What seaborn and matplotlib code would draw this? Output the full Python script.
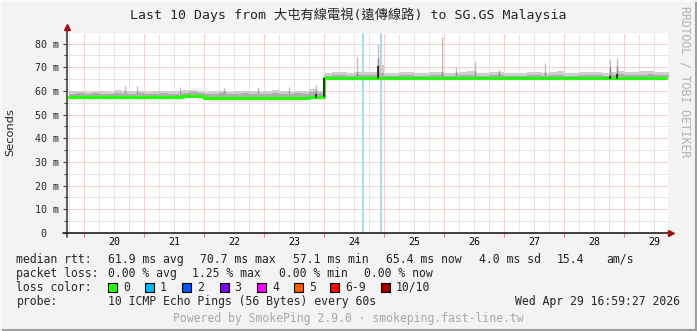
import numpy as np
import pandas as pd
import matplotlib
matplotlib.use('Agg')
import matplotlib.pyplot as plt
import matplotlib.dates as mdates
from matplotlib.ticker import MultipleLocator, FuncFormatter, NullFormatter
from matplotlib.patches import Rectangle
from matplotlib.lines import Line2D
import seaborn as sns

# ---------------- data ----------------
sample_start = '2026-04-19 18:00'   # one sample every 3 hours
median_before = [57.4, 57.3, 57.4, 57.3, 57.3, 57.3, 57.4, 57.3, 57.3, 57.4,
                 57.3, 57.3, 57.3, 57.4, 57.5, 57.9, 58.0, 57.9, 57.2, 57.1,
                 57.1, 57.2, 57.1, 57.1, 57.2, 57.1, 57.1, 57.2, 57.2, 57.1,
                 57.1, 57.2, 57.5, 57.3]
median_after = [65.4, 65.3, 65.3, 65.3, 65.3, 65.3, 65.3, 65.6, 65.4, 65.3,
                65.3, 65.3, 65.3, 65.3, 65.3, 65.3, 65.3, 65.3, 65.3, 65.3,
                65.3, 65.3, 65.3, 65.4, 65.3, 65.3, 65.3, 65.3, 65.3, 65.3,
                65.3, 65.3, 65.3, 65.3, 65.3, 65.3, 65.4, 65.3, 65.3, 65.3,
                65.3, 65.3, 65.3, 65.3, 65.4, 65.3, 65.4]
smoke_dark_before = [58.9, 59.1, 58.7, 59.0, 58.8, 58.9, 59.2, 58.8, 58.9, 59.0,
                     58.7, 58.9, 59.1, 58.8, 58.9, 59.3, 59.4, 59.2, 58.7, 58.8,
                     59.0, 58.7, 58.8, 59.1, 58.9, 58.6, 58.9, 59.1, 58.8, 58.7,
                     59.0, 58.8, 59.6, 59.1]
smoke_dark_after = [66.5, 66.7, 66.8, 66.4, 66.6, 66.9, 66.7, 67.8, 66.5, 66.3,
                    66.6, 66.8, 66.4, 66.5, 66.9, 66.6, 66.3, 66.5, 66.7, 66.9,
                    66.5, 66.4, 66.6, 66.9, 66.5, 66.3, 66.5, 66.8, 66.6, 66.4,
                    66.7, 66.9, 66.5, 66.4, 66.8, 66.6, 66.9, 66.5, 66.7, 67.0,
                    66.8, 66.6, 66.9, 67.1, 66.9, 66.7, 66.9]
smoke_light_before = [59.8, 60.2, 59.6, 59.9, 60.0, 59.7, 60.3, 59.9, 59.8, 60.1,
                      59.7, 60.0, 60.2, 59.8, 59.9, 60.3, 60.5, 60.2, 59.6, 59.9,
                      60.1, 59.7, 59.8, 60.2, 59.9, 59.6, 60.0, 60.3, 59.8, 59.7,
                      60.1, 59.9, 60.8, 60.2]
smoke_light_after = [67.6, 67.9, 68.1, 67.7, 67.9, 68.2, 68.0, 70.8, 67.8, 67.5,
                     67.9, 68.1, 67.6, 67.8, 68.2, 67.9, 67.5, 67.7, 68.0, 68.3,
                     67.8, 67.6, 67.9, 68.2, 67.7, 67.5, 67.8, 68.1, 67.9, 67.6,
                     68.0, 68.3, 67.8, 67.7, 68.1, 67.9, 68.2, 67.8, 68.0, 68.4,
                     68.1, 67.9, 68.3, 68.5, 68.2, 68.0, 68.3]

spike_times = ['2026-04-20 16:20', '2026-04-20 21:07', '2026-04-21 14:24',
               '2026-04-22 08:00', '2026-04-22 21:36', '2026-04-23 10:00',
               '2026-04-23 20:53', '2026-04-24 13:12', '2026-04-24 21:36',
               '2026-04-25 23:17', '2026-04-26 04:48', '2026-04-26 12:29',
               '2026-04-26 22:05', '2026-04-27 16:19', '2026-04-28 18:29',
               '2026-04-28 21:07']
spike_base = [59.0, 59.0, 59.0, 59.0, 59.0, 59.0, 59.0, 66.5,
              66.5, 66.5, 66.5, 66.5, 66.5, 66.5, 66.5, 66.5]
spike_dark = [60.0, 60.2, 60.0, 60.0, 60.1, 60.0, 60.5, 68.0,
              74.0, 68.0, 68.0, 68.5, 68.0, 68.0, 70.0, 70.5]
spike_tops = [61.9, 62.3, 61.5, 61.4, 61.8, 61.6, 62.7, 74.2,
              80.0, 83.0, 70.3, 72.4, 69.0, 72.0, 72.9, 74.0]

dark_median_times = ['2026-04-23 20:53', '2026-04-24 00:00', '2026-04-24 21:36',
                     '2026-04-28 18:29', '2026-04-28 21:07']
dark_median_lo = [57.1, 57.3, 65.2, 65.2, 65.2]
dark_median_hi = [58.6, 65.3, 70.7, 66.3, 67.0]

loss_times = ['2026-04-24 15:36', '2026-04-24 22:48']

y_ticks = [0, 10, 20, 30, 40, 50, 60, 70, 80]
y_tick_labels = [' 0', '10 m', '20 m', '30 m', '40 m', '50 m', '60 m', '70 m', '80 m']
day_labels = ['20', '21', '22', '23', '24', '25', '26', '27', '28', '29']

loss_colors = ['#26ff00', '#00b8ff', '#0059ff', '#7e00ff', '#ff00ff',
               '#ff5a00', '#ff0000', '#a10000']
loss_labels = ['0', '1', '2', '3', '4', '5', '6-9', '10/10']
loss_label_x = [108, 145, 182, 219.5, 257, 294, 330, 381]

title = 'Last 10 Days from 大屯有線電視(遠傳線路) to SG.GS Malaysia'

# ---------------- figure ----------------
sns.set_theme(style='white')
MONO = ['DejaVu Sans Mono', 'Noto Sans CJK TC']
plt.rcParams['font.family'] = MONO

W, H = 697, 331
fig = plt.figure(figsize=(W / 100, H / 100), dpi=100, facecolor='#f3f3f3')
ax = fig.add_axes([67 / W, (H - 233) / H, 601 / W, 200 / H])
ax.set_facecolor('white')

median = median_before + median_after
smoke_dark = smoke_dark_before + smoke_dark_after
smoke_light = smoke_light_before + smoke_light_after
times = pd.date_range(sample_start, periods=len(median), freq='3h')
df = pd.DataFrame({'time': times, 'median': median,
                   'dark': smoke_dark, 'light': smoke_light})

# loss bars
for t in pd.to_datetime(loss_times):
    ax.axvline(t, color='#a8dcf0', lw=1.5, zorder=1.5)

# smoke
ax.fill_between(df['time'], df['median'], df['light'], step='post',
                color='#cecece', lw=0, zorder=2)
ax.fill_between(df['time'], df['median'], df['dark'], step='post',
                color='#acacac', lw=0, zorder=2.1)
st = pd.to_datetime(spike_times)
ax.vlines(st, spike_base, spike_tops, color='#bdbdbd', lw=1.0, zorder=2.2)
ax.vlines(st, spike_base, spike_dark, color='#8a8a8a', lw=1.0, zorder=2.3)

# median
sns.lineplot(data=df, x='time', y='median', drawstyle='steps-post',
             color='#26ff00', lw=2.3, ax=ax, zorder=3)
ax.vlines(pd.to_datetime(dark_median_times), dark_median_lo, dark_median_hi,
          color='#101010', lw=1.1, zorder=3.5)

# axes limits / ticks / grid
ax.set_xlim(pd.Timestamp('2026-04-19 17:12'), pd.Timestamp('2026-04-29 17:36'))
ax.set_ylim(0, 84.5)
ax.set_xlabel('')
ax.set_ylabel('')
for s in ax.spines.values():
    s.set_visible(False)

ax.xaxis.set_major_locator(mdates.DayLocator())
ax.xaxis.set_major_formatter(NullFormatter())
ax.xaxis.set_minor_locator(mdates.HourLocator(byhour=[6, 12, 18]))
noon_pos = {round(mdates.date2num(pd.Timestamp(f'2026-04-{d} 12:00')), 4): d
            for d in day_labels}
ax.xaxis.set_minor_formatter(FuncFormatter(
    lambda v, pos: noon_pos.get(round(v, 4), '')))

ax.set_yticks(y_ticks, labels=y_tick_labels)
ax.yaxis.set_minor_locator(MultipleLocator(5))

grid_kw = dict(ls=(0, (1, 1)), lw=0.72)
ax.grid(which='major', color='#eba8a8', **grid_kw)
ax.grid(which='minor', color='#cfcfcf', **grid_kw)
ax.set_axisbelow(True)

ax.tick_params(axis='x', which='major', length=3, width=0.8, color='#e08080',
               direction='out', bottom=True)
ax.tick_params(axis='x', which='minor', length=0, pad=3.2,
               labelsize=7.2, labelcolor='black')
ax.tick_params(axis='y', which='major', length=3, width=0.8, color='#404040',
               direction='out', left=True, pad=20.3, labelsize=7.2)
ax.tick_params(axis='y', which='minor', length=2, width=0.8, color='#404040',
               direction='out', left=True)
for lab in ax.get_yticklabels():
    lab.set_ha('left')

# axis lines with arrows
ax.plot([0, 0], [-4 / 200, 1.02], transform=ax.transAxes, color='#404040',
        lw=1.2, clip_on=False, zorder=5)
ax.plot([-4 / 601, 1.003], [0, 0], transform=ax.transAxes, color='#202020',
        lw=1.2, clip_on=False, zorder=5)
ax.plot([0], [1.03], marker='^', ms=5, color='#9b1414', transform=ax.transAxes,
        clip_on=False, zorder=6)
ax.plot([1.005], [0], marker='>', ms=5, color='#9b1414', transform=ax.transAxes,
        clip_on=False, zorder=6)


def ftext(x, y, s, **kw):
    kw.setdefault('family', MONO)
    kw.setdefault('va', 'center')
    return fig.text(x / W, 1 - y / H, s, **kw)


# title
ftext(348, 19.5, title, fontsize=9.5, ha='center', va='baseline')

# side labels
ftext(10, 132, 'Seconds', rotation=90, ha='center', fontsize=8.2,
      family='DejaVu Sans')
ftext(685, 81.5, 'RRDTOOL / TOBI OETIKER', rotation=270, ha='center',
      fontsize=8.3, color='#b2b2b2')

# legend
LS = 8.3
rows = [
    (259.3, [(16.4, 'median rtt:'), (107.6, '61.9 ms avg'), (200, '70.7 ms max'),
             (292.9, '57.1 ms min'), (385.8, '65.4 ms now'), (479, '4.0 ms sd'),
             (557, '15.4'), (606.7, 'am/s')]),
    (273.3, [(16.4, 'packet loss:'), (107.6, '0.00 % avg'), (192, '1.25 % max'),
             (279, '0.00 % min'), (364.4, '0.00 % now')]),
    (287.3, [(16.4, 'loss color:')]),
    (301.3, [(16.4, 'probe:'), (107.6, '10 ICMP Echo Pings (56 Bytes) every 60s')]),
]
for y, items in rows:
    for x, s in items:
        ftext(x, y, s, fontsize=LS)
for x, c, lab in zip(loss_label_x, loss_colors, loss_labels):
    fig.patches.append(Rectangle((x / W, 1 - (287.3 + 4.5) / H), 9 / W, 9 / H,
                                 transform=fig.transFigure, facecolor=c,
                                 edgecolor='black', lw=0.8))
    ftext(x + 15, 287.3, lab, fontsize=LS)
ftext(680, 301.3, 'Wed Apr 29 16:59:27 2026', fontsize=LS, ha='right')
ftext(348.4, 318.3, 'Powered by SmokePing 2.9.0 · smokeping.fast-line.tw',
      fontsize=LS, ha='center', color='#a8a8a8')

# 3D frame
fig.add_artist(Line2D([695.5 / W, 695.5 / W], [0, 1], transform=fig.transFigure,
                      color='#a0a0a0', lw=1.5))
fig.add_artist(Line2D([0, 1], [1 - 329.5 / H, 1 - 329.5 / H],
                      transform=fig.transFigure, color='#a0a0a0', lw=1.5))
fig.add_artist(Line2D([0.5 / W, 0.5 / W], [0, 1], transform=fig.transFigure,
                      color='#fcfcfc', lw=1.2))
fig.add_artist(Line2D([0, 1], [1 - 0.5 / H, 1 - 0.5 / H],
                      transform=fig.transFigure, color='#fcfcfc', lw=1.2))

fig.savefig('out.png', dpi=100, facecolor=fig.get_facecolor())
